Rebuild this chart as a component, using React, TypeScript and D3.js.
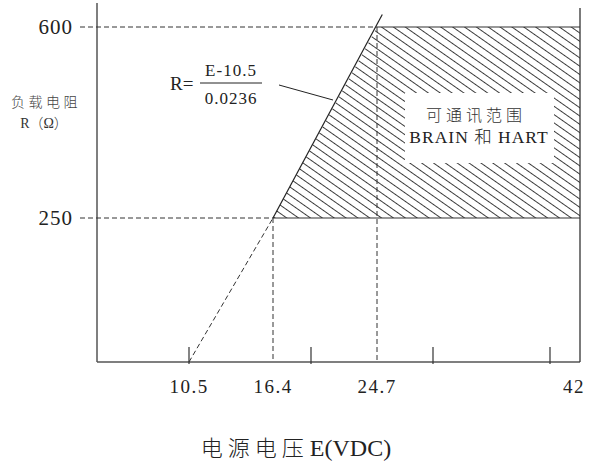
import React from 'react';
import * as d3 from 'd3';

// axis breakpoints (schematic, not to scale)
const xKnots = [10.5, 16.4, 20, 24.7, 30, 40, 42];
const xKnotPx = [189, 273, 311, 377, 433, 550, 580];
const yKnots = [0, 250, 600];
const yKnotPx = [362, 218, 27];

const xTickLabels = [
  { v: 10.5, t: '10.5' },
  { v: 16.4, t: '16.4' },
  { v: 24.7, t: '24.7' },
  { v: 42, t: '42' },
];
const xSolidTicks = [10.5, 20, 30, 40];
const yTickLabels = [
  { v: 600, t: '600' },
  { v: 250, t: '250' },
];

// R = (E - 10.5) / 0.0236
const loadLineE = [16.4, 25.2];
const dashedLineE = [10.5, 16.4];
const region: [number, number][] = [
  [16.4, 250],
  [24.7, 600],
  [42, 600],
  [42, 250],
];

const serif = '"Liberation Serif", "Times New Roman", serif';
const cjk = '"Liberation Serif", "Noto Sans CJK SC", serif';

const App: React.FC = () => {
  const x = d3.scaleLinear().domain(xKnots).range(xKnotPx);
  const y = d3.scaleLinear().domain(yKnots).range(yKnotPx);
  const rOf = (e: number) => (e - 10.5) / 0.0236;

  const line = d3
    .line<[number, number]>()
    .x((d) => x(d[0]))
    .y((d) => y(d[1]));

  const left = 97;
  const bottom = y(0);
  const right = x(42);

  const solid = line(loadLineE.map((e) => [e, rOf(e)] as [number, number])) || '';
  const dashed = line(
    dashedLineE.map((e, i) => [e, i === 0 ? 0 : rOf(e)] as [number, number])
  ) || '';
  const area = (line(region) || '') + 'Z';

  const axisColor = '#555';
  const dash = '5,3';

  return (
    <svg
      width={595}
      height={464}
      style={{ position: 'absolute', left: 0, top: 0, background: '#fff' }}
    >
      <defs>
        <pattern
          id="hatch"
          width={12}
          height={6.8}
          patternUnits="userSpaceOnUse"
          patternTransform="rotate(35)"
        >
          <line x1={0} y1={0} x2={12} y2={0} stroke="#000" strokeWidth={1.5} />
        </pattern>
      </defs>

      {/* hatched region */}
      <path d={area} fill="url(#hatch)" stroke="none" />
      <rect x={405} y={93} width={149} height={70} fill="#fff" />

      {/* frame */}
      <line x1={left} y1={3} x2={left} y2={bottom} stroke={axisColor} strokeWidth={1.5} />
      <line x1={left} y1={bottom} x2={right} y2={bottom} stroke={axisColor} strokeWidth={1.5} />
      <line x1={right} y1={8} x2={right} y2={bottom} stroke="#333" strokeWidth={1.3} />

      {/* region edges */}
      <line x1={x(24.7)} y1={y(600)} x2={right} y2={y(600)} stroke="#333" strokeWidth={1.2} />
      <line x1={x(16.4)} y1={y(250)} x2={right} y2={y(250)} stroke="#333" strokeWidth={1.2} />

      {/* dashed guides */}
      <g stroke="#333" strokeWidth={1} strokeDasharray={dash} fill="none">
        <line x1={80} y1={y(600)} x2={x(24.7)} y2={y(600)} />
        <line x1={80} y1={y(250)} x2={x(16.4)} y2={y(250)} />
        <line x1={x(16.4)} y1={y(250)} x2={x(16.4)} y2={bottom} />
        <line x1={x(24.7)} y1={y(600)} x2={x(24.7)} y2={bottom} />
        <path d={dashed} />
      </g>

      {/* load line */}
      <path d={solid} stroke="#222" strokeWidth={1.2} fill="none" />

      {/* ticks */}
      {xSolidTicks.map((v) => (
        <line key={v} x1={x(v)} y1={bottom - 15} x2={x(v)} y2={bottom + 2} stroke="#333" strokeWidth={1.2} />
      ))}

      {/* x tick labels */}
      {xTickLabels.map((d) => (
        <text
          key={d.t}
          x={d.v === 42 ? x(d.v) - 6 : x(d.v)}
          y={393}
          textAnchor="middle"
          fontFamily={serif}
          fontSize={19}
          letterSpacing={1.5}
          fill="#222"
        >
          {d.t}
        </text>
      ))}

      {/* y tick labels */}
      {yTickLabels.map((d) => (
        <text
          key={d.t}
          x={73}
          y={y(d.v) + 7}
          textAnchor="end"
          fontFamily={serif}
          fontSize={21}
          letterSpacing={1}
          fill="#222"
        >
          {d.t}
        </text>
      ))}

      {/* y axis title */}
      <text x={46} y={107} textAnchor="middle" fontFamily={cjk} fontSize={14} fontWeight={300} fill="#444" letterSpacing={3.5}>
        负载电阻
      </text>
      <text x={44} y={128} textAnchor="middle" fontFamily={cjk} fontSize={14} fontWeight={300} fill="#333">
        R（Ω）
      </text>

      {/* formula */}
      <text x={170} y={90} fontFamily={serif} fontSize={19} fill="#222">
        R=
      </text>
      <text x={231} y={76} textAnchor="middle" fontFamily={serif} fontSize={17} letterSpacing={1} fill="#222">
        E-10.5
      </text>
      <line x1={200} y1={83} x2={262} y2={83} stroke="#222" strokeWidth={1} />
      <text x={231} y={104} textAnchor="middle" fontFamily={serif} fontSize={17} letterSpacing={1} fill="#222">
        0.0236
      </text>
      <line x1={279} y1={85} x2={333} y2={100} stroke="#222" strokeWidth={1} />

      {/* region label */}
      <text x={476} y={121} textAnchor="middle" fontFamily={cjk} fontSize={16} fontWeight={300} fill="#333" letterSpacing={4}>
        可通讯范围
      </text>
      <text x={479} y={143} textAnchor="middle" fontFamily={cjk} fontSize={17.5} fontWeight={300} fill="#222" letterSpacing={1}>
        BRAIN 和 HART
      </text>

      {/* x axis title */}
      <text x={296} y={456} textAnchor="middle" fontFamily={cjk} fontWeight={300} fill="#222">
        <tspan fontSize={22} letterSpacing={5}>电源电压</tspan>
        <tspan fontSize={24} dx={1}>E(VDC)</tspan>
      </text>
    </svg>
  );
};

export default App;
